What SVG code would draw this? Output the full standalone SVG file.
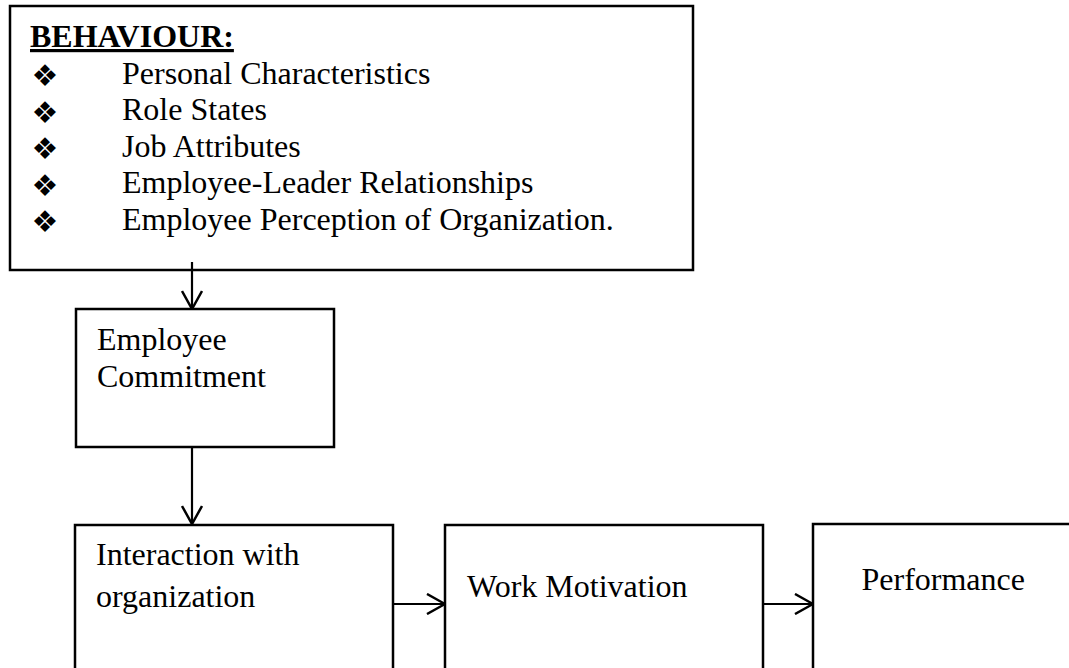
<svg xmlns="http://www.w3.org/2000/svg" width="1069" height="668" viewBox="0 0 1069 668">
  <style>
    .box { fill: #ffffff; stroke: #000000; stroke-width: 2.5; }
    .lbl { font-family: "Liberation Serif", "Times New Roman", serif; font-size: 32px; fill: #000000; }
    .head { font-weight: bold; text-decoration: underline; }
    .bullet { font-family: "DejaVu Sans", sans-serif; font-size: 30px; fill: #000000; text-anchor: middle; }
    .conn { fill: none; stroke: #000000; stroke-width: 2.2; }
  </style>
  <defs>
    <!-- open V arrowhead used by every connector -->
    <marker id="arrow" markerUnits="userSpaceOnUse" viewBox="0 0 20 22" refX="19" refY="11" markerWidth="20" markerHeight="22" orient="auto">
      <path d="M1,1 L19,11 L1,21" fill="none" stroke="#000000" stroke-width="2.5"/>
    </marker>
  </defs>

  <rect width="1069" height="668" fill="#ffffff"/>

  <!-- behaviour factors -->
  <g id="behaviour">
    <rect class="box" x="10" y="6" width="683" height="264"/>
    <text class="lbl head" x="30" y="47">BEHAVIOUR:</text>
    <text class="bullet" x="45" y="86">❖</text>
    <text class="bullet" x="45" y="122.5">❖</text>
    <text class="bullet" x="45" y="159">❖</text>
    <text class="bullet" x="45" y="195.5">❖</text>
    <text class="bullet" x="45" y="232">❖</text>
    <text class="lbl" x="122" y="83.5">Personal Characteristics</text>
    <text class="lbl" x="122" y="120">Role States</text>
    <text class="lbl" x="122" y="156.5">Job Attributes</text>
    <text class="lbl" x="122" y="193">Employee-Leader Relationships</text>
    <text class="lbl" x="122" y="229.5">Employee Perception of Organization.</text>
  </g>

  <!-- connectors -->
  <g id="connectors">
    <line class="conn" x1="192" y1="262" x2="192" y2="309" marker-end="url(#arrow)"/>
    <line class="conn" x1="192" y1="447" x2="192" y2="524" marker-end="url(#arrow)"/>
    <line class="conn" x1="393" y1="604" x2="445" y2="604" marker-end="url(#arrow)"/>
    <line class="conn" x1="763" y1="604" x2="813" y2="604" marker-end="url(#arrow)"/>
  </g>

  <g id="commitment">
    <rect class="box" x="76" y="309" width="258" height="138"/>
    <text class="lbl" x="97" y="350">Employee</text>
    <text class="lbl" x="97" y="387">Commitment</text>
  </g>

  <g id="interaction">
    <rect class="box" x="75" y="525" width="318" height="160"/>
    <text class="lbl" x="96" y="565">Interaction with</text>
    <text class="lbl" x="96" y="607">organization</text>
  </g>

  <g id="motivation">
    <rect class="box" x="445" y="525" width="318" height="160"/>
    <text class="lbl" x="467" y="597">Work Motivation</text>
  </g>

  <g id="performance">
    <rect class="box" x="813" y="524" width="300" height="160"/>
    <text class="lbl" x="861.5" y="589.5">Performance</text>
  </g>
</svg>
